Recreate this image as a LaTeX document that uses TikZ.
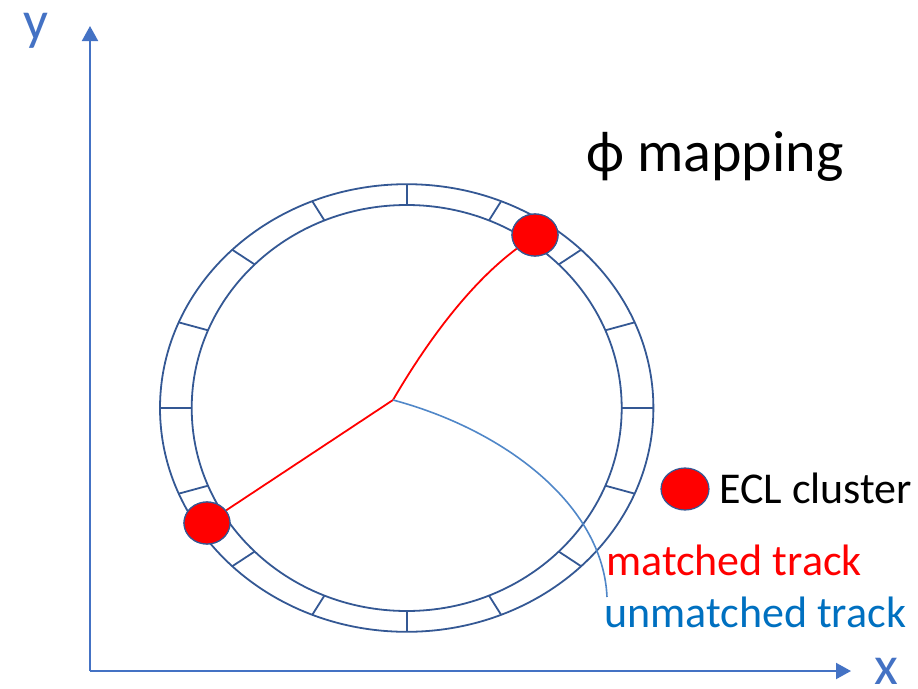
\documentclass[tikz,border=0pt]{standalone}
\usepackage{fontspec}
\setmainfont{Carlito}
\usetikzlibrary{shapes.geometric,arrows.meta}
\definecolor{ringblue}{RGB}{52,88,148}
\definecolor{axisblue}{RGB}{68,114,196}
\definecolor{trackblue}{RGB}{80,135,200}
\definecolor{textblue}{RGB}{0,112,192}
\tikzset{
  ring/.style={draw=ringblue, line width=1.8pt},
  cluster/.style={ellipse, draw=ringblue, line width=1.2pt, fill=red, minimum width=46pt, minimum height=42pt, inner sep=0pt},
  axisline/.style={draw=axisblue, line width=2pt, -{Triangle[length=15pt,width=16pt]}},
  matchedtrk/.style={draw=red, line width=1.8pt},
  unmatchedtrk/.style={draw=trackblue, line width=1.6pt},
  lbl/.style={anchor=base west, inner sep=0pt},
  axlbl/.style={lbl, font=\fontsize{55}{60}\selectfont, text=axisblue, text height=0.45em, text depth=0pt}
}
\begin{document}
\begin{tikzpicture}[x=1pt,y=-1pt]
\useasboundingbox (0,0) rectangle (918,688);
% axes
\coordinate (orig) at (90,671);
\coordinate (ytip) at (90,26);
\coordinate (xtip) at (851,671);
\draw[axisline] (orig) -- (ytip);
\draw[axisline] (orig) -- (xtip);
\node[axlbl] (ylab) at (23,39) {y};
\node[axlbl] (xlab) at (874,684) {x};
% ring
\coordinate (c) at (406.7,408);
\draw[ring] (c) ellipse [x radius=246.7pt, y radius=223.8pt];
\draw[ring] (c) ellipse [x radius=215pt, y radius=203pt];
\foreach \a in {0,22.5,...,337.5}{
  \draw[ring] ({406.7+215*cos(\a)},{408-203*sin(\a)}) -- ({406.7+246.7*cos(\a)},{408-223.8*sin(\a)});
}
% tracks
\coordinate (o) at (393,400);
\node[cluster] (d1) at (535,235) {};
\node[cluster] (d2) at (207,523) {};
\coordinate (uend) at (607,597);
\draw[matchedtrk] (o) .. controls (425,345) and (468,285) .. (d1);
\draw[matchedtrk] (o) -- (d2);
\draw[unmatchedtrk] (o) .. controls (505,430) and (603,505) .. (uend);
\node[cluster] (d1) at (535,235) {};
\node[cluster] (d2) at (207,523) {};
% title
\node[lbl, font=\fontsize{58}{62}\selectfont] (title) at (586,171) {\symbol{"03D5} mapping};
% legend
\node[cluster, minimum width=48pt] (ld) at (685,489) {};
\node[lbl, font=\fontsize{44}{48}\selectfont] (ecl) at (719,503) {ECL cluster};
\node[lbl, font=\fontsize{44}{48}\selectfont, text=red] (mt) at (606,575) {matched track};
\node[lbl, font=\fontsize{44}{48}\selectfont, text=textblue] (ut) at (604,627) {unmatched track};
\end{tikzpicture}
\end{document}
